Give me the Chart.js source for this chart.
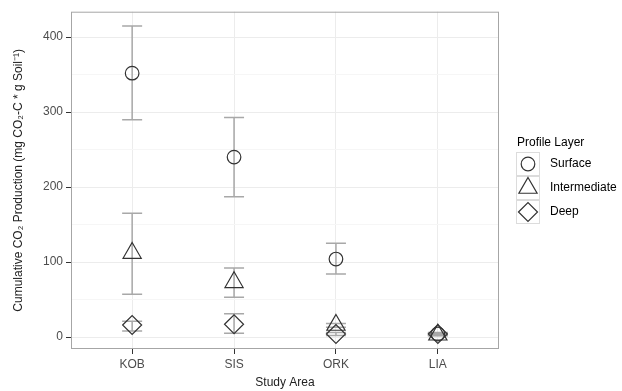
<!DOCTYPE html>
<html>
<head>
<meta charset="utf-8">
<script src="https://cdn.jsdelivr.net/npm/chart.js@4"></script>
<style>
  html, body { margin: 0; padding: 0; background: #fff; }
  #wrap { width: 622px; height: 391px; position: relative; }
</style>
</head>
<body>
<div id="wrap"><canvas id="chart"></canvas></div>
<script>
const categories = ['KOB', 'SIS', 'ORK', 'LIA'];
const layers = ['Surface', 'Intermediate', 'Deep'];

// means and error bar limits
const surfaceMean = [352, 240, 104, 4];
const surfaceLow = [290, 187, 84, 2];
const surfaceHigh = [415, 293, 125, 6];

const intermediateMean = [112, 73, 16, 3];
const intermediateLow = [57, 53, 13, 2];
const intermediateHigh = [165, 92, 18, 4];

const deepMean = [16, 17, 4, 4];
const deepLow = [8, 5, 2, 2];
const deepHigh = [21, 31, 6, 5];

const yTicks = [0, 100, 200, 300, 400];

const INK = '#333333';
const BAR = '#a8a8a8';

function points(mean, low, high) {
  return mean.map((v, i) => ({ x: i + 1, y: v, lo: low[i], hi: high[i] }));
}

const errorBars = {
  id: 'errorBars',
  beforeDatasetsDraw(chart) {
    const ctx = chart.ctx;
    const xs = chart.scales.x, ys = chart.scales.y;
    ctx.save();
    ctx.strokeStyle = BAR;
    ctx.lineWidth = 1.5;
    chart.data.datasets.forEach(ds => {
      ds.data.forEach(p => {
        const x = xs.getPixelForValue(p.x);
        const y1 = ys.getPixelForValue(p.lo);
        const y2 = ys.getPixelForValue(p.hi);
        ctx.beginPath();
        ctx.moveTo(x, y1); ctx.lineTo(x, y2);
        ctx.moveTo(x - 10, y1); ctx.lineTo(x + 10, y1);
        ctx.moveTo(x - 10, y2); ctx.lineTo(x + 10, y2);
        ctx.stroke();
      });
    });
    ctx.restore();
  }
};

const panel = {
  id: 'panel',
  afterDatasetsDraw(chart) {
    const { left, top, right, bottom } = chart.chartArea;
    const ctx = chart.ctx;
    ctx.save();
    ctx.strokeStyle = '#a6a6a6';
    ctx.lineWidth = 1;
    ctx.strokeRect(left + 0.5, top + 0.5, right - left - 1, bottom - top - 1);
    ctx.restore();
  },
  afterDraw(chart) {
    // ggplot style legend at the right
    const ctx = chart.ctx;
    const x0 = 516, y0 = 152, key = 24;
    ctx.save();
    ctx.font = '12px "Liberation Sans", Arial, sans-serif';
    ctx.fillStyle = '#000';
    ctx.textBaseline = 'middle';
    ctx.textAlign = 'left';
    ctx.fillText('Profile Layer', 517, 143);
    chart.data.datasets.forEach((ds, i) => {
      const ky = y0 + i * key;
      ctx.fillStyle = '#fff';
      ctx.fillRect(x0, ky, key, key);
      ctx.strokeStyle = '#dcdcdc';
      ctx.lineWidth = 1;
      ctx.strokeRect(x0 + 0.5, ky + 0.5, key - 1, key - 1);
      ctx.strokeStyle = INK;
      ctx.lineWidth = 1.2;
      Chart.helpers.drawPoint(ctx, {
        pointStyle: ds.pointStyle, radius: ds.pointRadius, rotation: 0, borderWidth: 1.2
      }, x0 + key / 2, ky + key / 2);
      ctx.fillStyle = '#000';
      ctx.fillText(ds.label, 550, ky + key / 2);
    });
    ctx.restore();
  }
};

const tickFont = { family: '"Liberation Sans", Arial, sans-serif', size: 12 };

new Chart(document.getElementById('chart'), {
  type: 'scatter',
  data: {
    datasets: [
      { label: layers[0], data: points(surfaceMean, surfaceLow, surfaceHigh),
        pointStyle: 'circle', pointRadius: 6.8 },
      { label: layers[1], data: points(intermediateMean, intermediateLow, intermediateHigh),
        pointStyle: 'triangle', pointRadius: 10.5 },
      { label: layers[2], data: points(deepMean, deepLow, deepHigh),
        pointStyle: 'rectRot', pointRadius: 9.5 }
    ].map(ds => Object.assign(ds, {
      borderColor: INK, backgroundColor: 'rgba(0,0,0,0)',
      pointBorderWidth: 1.2, pointHoverRadius: ds.pointRadius
    }))
  },
  options: {
    responsive: true,
    maintainAspectRatio: false,
    animation: false,
    layout: { padding: { top: 11, right: 123, left: 0, bottom: 0 } },
    plugins: { legend: { display: false }, tooltip: { enabled: false } },
    scales: {
      x: {
        type: 'linear', min: 0.4, max: 4.6,
        afterBuildTicks: s => { s.ticks = categories.map((c, i) => ({ value: i + 1 })); },
        afterFit: s => { s.height = 42; },
        ticks: {
          callback: v => categories[v - 1], color: '#4d4d4d', font: tickFont, padding: 3
        },
        grid: { color: '#ececec', lineWidth: 1, tickLength: 5, tickColor: INK },
        border: { display: false },
        title: {
          display: true, text: 'Study Area', color: '#222', font: tickFont,
          padding: { top: 0, bottom: 1 }
        }
      },
      y: {
        min: -16, max: 434,
        afterBuildTicks: s => {
          const t = [];
          for (let v = 0; v <= 400; v += 50) t.push({ value: v });
          s.ticks = t;
        },
        afterFit: s => { s.width = 71; },
        ticks: {
          callback: v => (yTicks.includes(v) ? v : ''), color: '#4d4d4d', font: tickFont, padding: 3
        },
        grid: {
          color: c => (yTicks.includes(c.tick.value) ? '#ececec' : '#f6f6f6'),
          tickColor: c => (yTicks.includes(c.tick.value) ? INK : 'rgba(0,0,0,0)'),
          tickLength: 5, lineWidth: 1
        },
        border: { display: false },
        title: {
          display: true, text: 'Cumulative CO₂ Production (mg CO₂-C * g Soil⁻¹)',
          color: '#222', font: tickFont, padding: { top: 11, bottom: 0 }
        }
      }
    }
  },
  plugins: [errorBars, panel]
});
</script>
</body>
</html>
